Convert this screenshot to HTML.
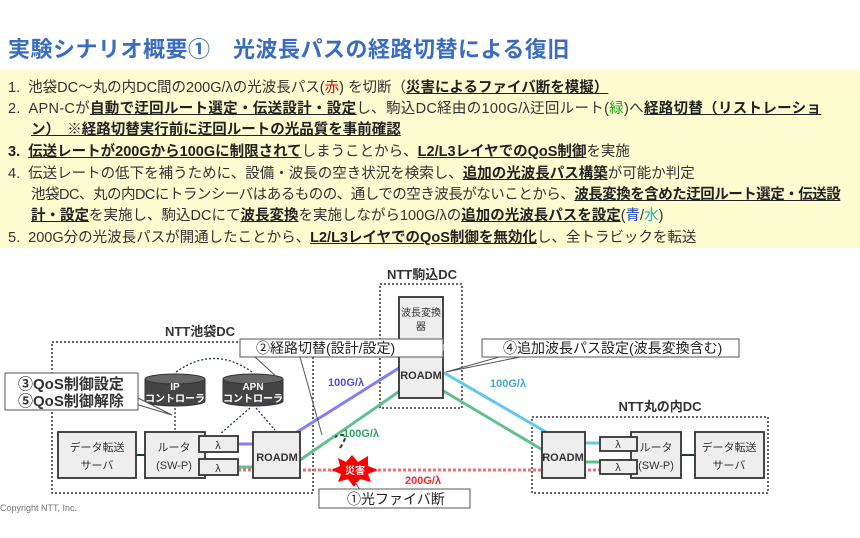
<!DOCTYPE html>
<html><head><meta charset="utf-8"><style>
body{margin:0;width:860px;height:538px;background:#fff;overflow:hidden;font-family:"Liberation Sans","Noto Sans CJK JP",sans-serif;position:relative}
.t{position:absolute;left:8px;top:32px;font-size:22px;font-weight:bold;color:#3a6cc0;letter-spacing:0.5px}
.y{position:absolute;left:0;top:70px;width:860px;height:178px;background:#fdfbd0}
.l{position:absolute;left:8px;font-size:14.5px;color:#333;white-space:nowrap}
b{text-decoration:underline;color:#222}
svg{position:absolute;left:0;top:0}
</style></head><body>
<div class="t">実験シナリオ概要①　光波長パスの経路切替による復旧</div>
<div class="y"></div>
<div class="l" style="top:76px">1.&nbsp; 池袋DC～丸の内DC間の200G/λの光波長パス(<span style="color:#d00">赤</span>) を切断（<b>災害によるファイバ断を模擬）</b></div>
<div class="l" style="top:97px;letter-spacing:0.3px">2.&nbsp; APN-Cが<b>自動で迂回ルート選定・伝送設計・設定</b>し、駒込DC経由の100G/λ迂回ルート(<span style="color:#2a2">緑</span>)へ<b>経路切替（リストレーショ</b></div>
<div class="l" style="top:118px;left:31px"><b>ン）　※経路切替実行前に迂回ルートの光品質を事前確認</b></div>
<div class="l" style="top:140px"><b style="text-decoration:none">3.</b>&nbsp; <b>伝送レートが200Gから100Gに制限されて</b>しまうことから、<b>L2/L3レイヤでのQoS制御</b>を実施</div>
<div class="l" style="top:162px">4.&nbsp; 伝送レートの低下を補うために、設備・波長の空き状況を検索し、<b>追加の光波長パス構築</b>が可能か判定</div>
<div class="l" style="top:183px;left:31px;letter-spacing:-0.5px">池袋DC、丸の内DCにトランシーバはあるものの、通しでの空き波長がないことから、<b>波長変換を含めた迂回ルート選定・伝送設</b></div>
<div class="l" style="top:204px;left:31px"><b>計・設定</b>を実施し、駒込DCにて<b>波長変換</b>を実施しながら100G/λの<b>追加の光波長パスを設定</b>(<span style="color:#24c">青</span>/<span style="color:#2ac">水</span>)</div>
<div class="l" style="top:226px">5.&nbsp; 200G分の光波長パスが開通したことから、<b>L2/L3レイヤでのQoS制御を無効化</b>し、全トラビックを転送</div>
<svg width="860" height="538" font-family="Liberation Sans,Noto Sans CJK JP,sans-serif">
<g fill="none" stroke="#333" stroke-width="1.5" stroke-dasharray="2,2">
<rect x="52" y="342" width="261" height="151"/>
<rect x="380" y="284" width="82" height="124"/>
<rect x="532" y="417" width="236" height="76"/>
</g>
<g font-size="13" font-weight="bold" fill="#333" text-anchor="middle">
<text x="200" y="336">NTT池袋DC</text><text x="422" y="279">NTT駒込DC</text><text x="660" y="411">NTT丸の内DC</text>
</g>
<line x1="238" y1="470" x2="600" y2="470" stroke="#f07070" stroke-width="3" stroke-dasharray="3,2"/>
<polyline points="238,444 278,444 407,363 407,345" fill="none" stroke="#8080f0" stroke-width="3"/>
<polyline points="238,467 290,467 407,386 435,386 563,462 600,462" fill="none" stroke="#60c090" stroke-width="3"/>
<polyline points="434,343 434,367 565,443 600,443" fill="none" stroke="#60c8ec" stroke-width="3"/>
<line x1="136" y1="455" x2="145" y2="455" stroke="#235" stroke-width="2"/>
<line x1="681" y1="455" x2="695" y2="455" stroke="#235" stroke-width="2"/>
<g fill="#eee" stroke="#333" stroke-width="1.8">
<rect x="58" y="432" width="78" height="46"/><rect x="145" y="432" width="60" height="46"/>
<rect x="199" y="436" width="39" height="16"/><rect x="199" y="459" width="39" height="16"/>
<rect x="253" y="432" width="47" height="46"/>
<rect x="399" y="297" width="44" height="46"/><rect x="399" y="352" width="44" height="46"/>
<rect x="542" y="432" width="43" height="46"/><rect x="631" y="432" width="50" height="46"/>
<rect x="600" y="437" width="37" height="14"/><rect x="600" y="460" width="37" height="14"/>
<rect x="695" y="432" width="69" height="46"/>
</g>
<g font-size="11" fill="#333" text-anchor="middle">
<text x="97" y="451">データ転送</text><text x="97" y="469">サーバ</text>
<text x="174" y="451">ルータ</text><text x="174" y="469">(SW-P)</text>
<text x="218" y="449">λ</text><text x="218" y="472">λ</text>
<text x="277" y="461" font-weight="bold">ROADM</text>
<text x="421" y="316" font-size="10">波長変換</text><text x="421" y="330" font-size="10">器</text>
<text x="421" y="379" font-weight="bold">ROADM</text>
<text x="563" y="461" font-weight="bold">ROADM</text>
<text x="618" y="448">λ</text><text x="618" y="471">λ</text>
<text x="656" y="451">ルータ</text><text x="656" y="469">(SW-P)</text>
<text x="729" y="451">データ転送</text><text x="729" y="469">サーバ</text>
</g>
<g fill="#444" stroke="#333">
<path d="M145,379 v22 a30,5 0 0 0 60,0 v-22 z"/><ellipse cx="175" cy="379" rx="30" ry="5" fill="#666"/>
<path d="M223,379 v22 a30,5 0 0 0 60,0 v-22 z"/><ellipse cx="253" cy="379" rx="30" ry="5" fill="#666"/>
</g>
<g font-size="10" font-weight="bold" fill="#fff" text-anchor="middle">
<text x="175" y="390">IP</text><text x="175" y="402">コントローラ</text>
<text x="253" y="390">APN</text><text x="253" y="402">コントローラ</text>
</g>
<g fill="none" stroke="#235" stroke-width="1.3" stroke-dasharray="2,2">
<path d="M176,372 Q214,345 252,372"/>
<line x1="175" y1="408" x2="175" y2="430"/>
<line x1="250" y1="408" x2="220" y2="434"/><line x1="256" y1="408" x2="275" y2="430"/>
</g>
<g font-size="11" font-weight="bold">
<text x="328" y="386" fill="#5050d0">100G/λ</text>
<text x="343" y="437" fill="#30a060">100G/λ</text>
<text x="490" y="387" fill="#40a8dd">100G/λ</text>
<text x="405" y="484" fill="#e03030">200G/λ</text>
</g>
<path d="M340,448 Q352,430 335,437" fill="none" stroke="#333" stroke-width="2" stroke-dasharray="4,3"/>
<polygon points="338,458 346,462 352,455 358,462 368,456 368,466 378,470 368,474 371,482 360,479 354,487 348,479 338,482 341,474 331,470 340,466" fill="#f00"/>
<text x="355" y="474" font-size="10" font-weight="bold" fill="#fff" text-anchor="middle">災害</text>
<g fill="#fff" stroke="#555" stroke-width="1">
<path d="M138,398 L172,415 L132,403" />
<rect x="5" y="373" width="133" height="37"/>
<path d="M300,357 L322,435 M255,357 L278,378"/>
<rect x="240" y="339" width="203" height="18"/>
<path d="M510,354 L446,372 L520,357"/>
<rect x="482" y="339" width="257" height="18"/>
<path d="M355,482 L360,490 L395,490"/>
<rect x="319" y="489" width="151" height="19"/>
</g>
<g font-size="14" fill="#222">
<text x="18" y="389" font-size="15" font-weight="bold" fill="#333">③QoS制御設定</text><text x="18" y="406" font-size="15" font-weight="bold" fill="#333">⑤QoS制御解除</text>
<text x="256" y="353">②経路切替(設計/設定)</text>
<text x="503" y="353">④追加波長パス設定(波長変換含む)</text>
<text x="347" y="504">①光ファイバ断</text>
</g>
<text x="0" y="511" font-size="9" fill="#777">Copyright NTT, Inc.</text>
</svg>
</body></html>
